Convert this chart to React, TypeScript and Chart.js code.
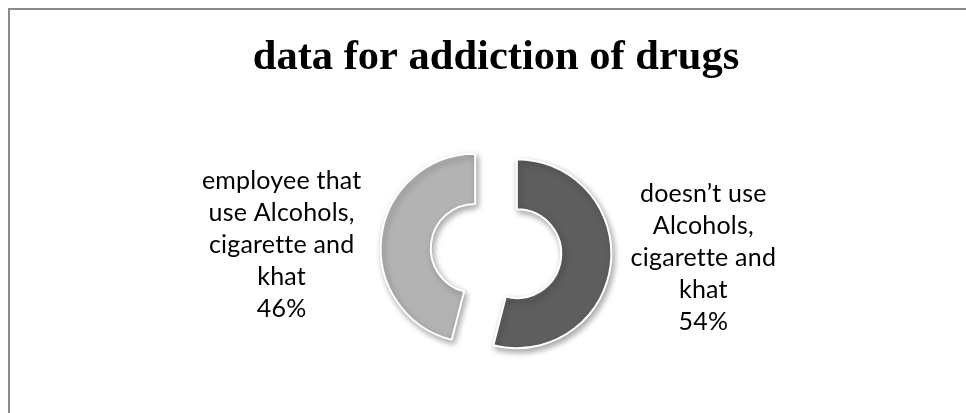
import React, { useEffect, useRef } from "react";
import { Chart, registerables, ArcElement } from "chart.js";

Chart.register(...registerables);

const chartTitle = "data for addiction of drugs";
const categories: string[][] = [
  ["doesn’t use", "Alcohols,", "cigarette and", "khat"],
  ["employee that", "use Alcohols,", "cigarette and", "khat"],
];
const values: number[] = [54, 46];
const sliceColors: string[] = ["#5e5e5e", "#b3b3b3"];

const EXPLODE = 21;
const LABEL_FONT = "25px Lato";
const LABEL_LINE = 32;

const explodePlugin = {
  id: "explodeArcs",
  beforeDatasetsDraw(chart: any) {
    const meta = chart.getDatasetMeta(0);
    meta.data.forEach((el: any) => {
      if (el.__patched) return;
      el.__patched = true;
      el.draw = function (ctx: CanvasRenderingContext2D, area: any) {
        const mid = (this.startAngle + this.endAngle) / 2;
        ctx.save();
        ctx.translate(Math.cos(mid) * EXPLODE, Math.sin(mid) * EXPLODE);
        ctx.shadowColor = "rgba(0,0,0,0.35)";
        ctx.shadowBlur = 6;
        ctx.shadowOffsetX = 2;
        ctx.shadowOffsetY = 3;
        (ArcElement.prototype as any).draw.call(this, ctx, area);
        ctx.restore();
      };
    });
  },
};

const labelPlugin = {
  id: "outsideLabels",
  afterDatasetsDraw(chart: any) {
    const ctx: CanvasRenderingContext2D = chart.ctx;
    const meta = chart.getDatasetMeta(0);
    const ds = chart.data.datasets[0].data as number[];
    const total = ds.reduce((a, b) => a + b, 0);
    ctx.save();
    ctx.font = LABEL_FONT;
    (ctx as any).letterSpacing = "0.2px";
    ctx.fillStyle = "#000000";
    ctx.textAlign = "center";
    ctx.textBaseline = "alphabetic";
    meta.data.forEach((el: any, i: number) => {
      const mid = (el.startAngle + el.endAngle) / 2;
      const dx = Math.cos(mid);
      const dy = Math.sin(mid);
      const lines = [...(chart.data.labels[i] as string[]), Math.round((ds[i] / total) * 100) + "%"];
      const w = Math.max(...lines.map((l) => ctx.measureText(l).width));
      const edge = el.x + dx * (el.outerRadius + EXPLODE);
      const cx = dx >= 0 ? edge + 20 + w / 2 : edge - 20 - w / 2;
      const midBase = el.y + 8.5 + dy * 50;
      const n = lines.length;
      lines.forEach((line, k) => {
        const y = midBase + (k - (n - 1) / 2) * LABEL_LINE;
        ctx.fillText(line, cx, y);
      });
    });
    ctx.restore();
  },
};

export default function App() {
  const ref = useRef<HTMLCanvasElement>(null);
  useEffect(() => {
    if (!ref.current) return;
    const chart = new Chart(ref.current, {
      type: "doughnut",
      data: {
        labels: categories as any,
        datasets: [
          {
            data: values,
            backgroundColor: sliceColors,
            borderColor: "#ffffff",
            borderWidth: 2,
            clip: false as any,
          },
        ],
      },
      options: {
        responsive: false,
        animation: false,
        devicePixelRatio: 1,
        cutout: "47%",
        layout: { padding: { top: 0, left: 16, right: 0, bottom: 66.5 } },
        plugins: {
          legend: { display: false },
          tooltip: { enabled: false },
          title: {
            display: true,
            text: chartTitle,
            color: "#000000",
            font: { family: "'Liberation Serif', 'Times New Roman', serif", size: 42.5, weight: "bold", lineHeight: 1.2 },
            padding: { top: 23, bottom: 71.5 },
          },
        },
      },
      plugins: [explodePlugin, labelPlugin],
    });
    return () => chart.destroy();
  }, []);
  return (
    <div
      style={{
        position: "fixed",
        left: 8,
        top: 8,
        width: 958,
        height: 405,
        boxSizing: "border-box",
        borderTop: "2px solid #8a8a8a",
        borderLeft: "2px solid #8a8a8a",
        background: "#ffffff",
        overflow: "hidden",
      }}
    >
      <canvas ref={ref} width={956} height={403} style={{ display: "block" }} />
    </div>
  );
}
